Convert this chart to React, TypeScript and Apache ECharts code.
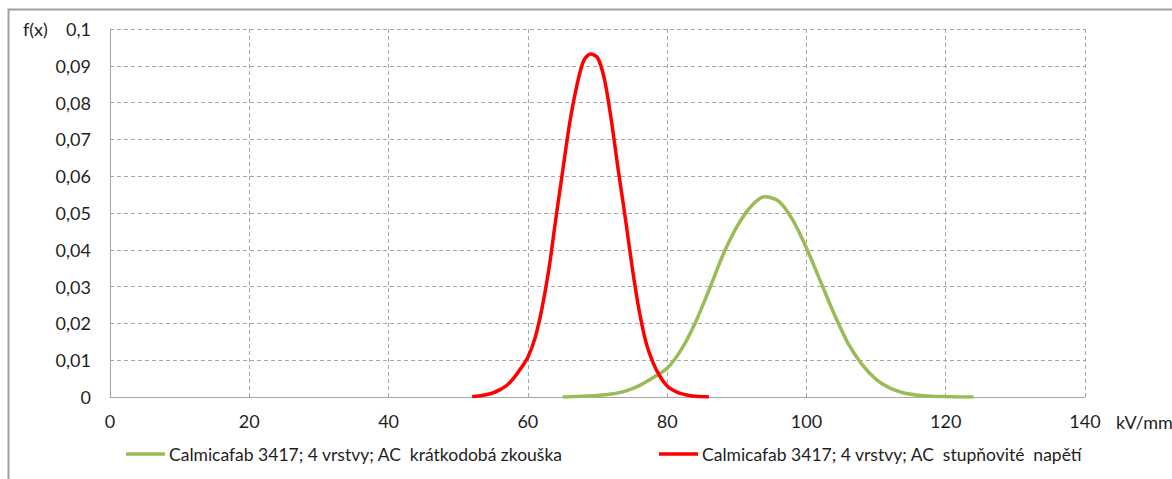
import React, { useEffect, useRef } from "react";
import * as echarts from "echarts";

const xTicks = [0, 20, 40, 60, 80, 100, 120, 140];
const yTicks = [0, 0.01, 0.02, 0.03, 0.04, 0.05, 0.06, 0.07, 0.08, 0.09, 0.1];

const greenName = "Calmicafab 3417; 4 vrstvy; AC  krátkodobá zkouška";
const redName = "Calmicafab 3417; 4 vrstvy; AC  stupňovité  napětí";

const greenX = [65, 66, 68, 70, 72, 74, 76, 78, 80, 82, 84, 86, 88, 90, 92, 94, 96, 98, 100, 102, 104, 106, 108, 110, 112, 114, 116, 118, 120, 122, 124];
const greenY = [0, 0.0001, 0.0002, 0.0004, 0.0008, 0.0016, 0.0031, 0.0053, 0.0078, 0.0128, 0.02, 0.029, 0.0385, 0.0462, 0.0517, 0.0544, 0.0532, 0.0482, 0.0405, 0.0315, 0.0225, 0.0145, 0.0088, 0.0048, 0.0024, 0.0011, 0.0005, 0.0002, 0.0001, 0, 0];

const redX = [52, 53, 54, 55, 56, 57, 58, 59, 60, 61, 62, 63, 64, 65, 66, 67, 68, 69, 70, 71, 72, 73, 74, 75, 76, 77, 78, 79, 80, 81, 82, 83, 84, 85, 86];
const redY = [0.0001, 0.0003, 0.0006, 0.0011, 0.002, 0.0032, 0.0052, 0.0078, 0.0108, 0.0158, 0.0238, 0.0345, 0.0482, 0.0614, 0.0744, 0.0843, 0.0913, 0.0932, 0.0922, 0.0863, 0.075, 0.0614, 0.0486, 0.035, 0.0233, 0.0146, 0.0092, 0.0055, 0.003, 0.0017, 0.0009, 0.0005, 0.0002, 0.0001, 0];

const FONT = "Lato";
const TXT = "#1f1f1f";
const GRID = "#A6A6A6";

export default function App() {
  const ref = useRef<HTMLDivElement>(null);
  useEffect(() => {
    if (!ref.current) return;
    const chart = echarts.init(ref.current, null, { renderer: "svg" });
    const zip = (xs: number[], ys: number[]) => xs.map((x, i) => [x, ys[i]]);
    const legendBase = {
      top: 445,
      itemWidth: 39,
      itemHeight: 3.5,
      itemGap: 4,
      icon: "rect",
      padding: 0,
      textStyle: { color: TXT, fontFamily: FONT, fontSize: 17.5, padding: [0, 0, 0, -1] },
    };
    chart.setOption({
      animation: false,
      backgroundColor: "#ffffff",
      grid: { left: 110, top: 29, width: 975, height: 368, containLabel: false },
      xAxis: {
        type: "value",
        min: xTicks[0],
        max: xTicks[xTicks.length - 1],
        interval: 20,
        axisLine: { show: true, onZero: false, lineStyle: { color: GRID, width: 1 } },
        axisTick: { show: false },
        axisLabel: { color: TXT, fontFamily: FONT, fontSize: 18, margin: 15 },
        splitLine: { show: true, lineStyle: { color: GRID, type: [4, 3], width: 1 } },
      },
      yAxis: {
        type: "value",
        min: yTicks[0],
        max: yTicks[yTicks.length - 1],
        interval: 0.01,
        axisLine: { show: true, lineStyle: { color: GRID, width: 1 } },
        axisTick: { show: false },
        axisLabel: {
          color: TXT,
          fontFamily: FONT,
          fontSize: 18,
          margin: 19,
          formatter: (v: number) => String(Math.round(v * 1000) / 1000).replace(".", ","),
        },
        splitLine: { show: true, lineStyle: { color: GRID, type: [4, 3], width: 1 } },
      },
      legend: [
        { ...legendBase, data: [greenName], left: 126 },
        { ...legendBase, data: [redName], left: 659 },
      ],
      graphic: [
        {
          type: "rect",
          shape: { x: 8.5, y: 9.5, width: 1400, height: 700 },
          style: { fill: "none", stroke: "#A0A0A0", lineWidth: 2 },
          silent: true,
        },
        {
          type: "text",
          x: 23,
          y: 29,
          style: { text: "f(x)", fill: TXT, font: `18px ${FONT}`, textVerticalAlign: "middle" },
        },
        {
          type: "text",
          x: 1116,
          y: 422,
          style: { text: "kV/mm", fill: TXT, font: `18px ${FONT}`, textVerticalAlign: "middle" },
        },
      ],
      series: [
        {
          name: greenName,
          type: "line",
          data: zip(greenX, greenY),
          smooth: 0.3,
          symbol: "none",
          lineStyle: { color: "#9BBB59", width: 3.5 },
          itemStyle: { color: "#9BBB59" },
        },
        {
          name: redName,
          type: "line",
          data: zip(redX, redY),
          smooth: 0.3,
          symbol: "none",
          lineStyle: { color: "#FF0000", width: 3.5 },
          itemStyle: { color: "#FF0000" },
        },
      ],
    });
    return () => chart.dispose();
  }, []);
  return (
    <div
      ref={ref}
      style={{ position: "fixed", left: 0, top: 0, width: 1172, height: 479, background: "#fff" }}
    />
  );
}
